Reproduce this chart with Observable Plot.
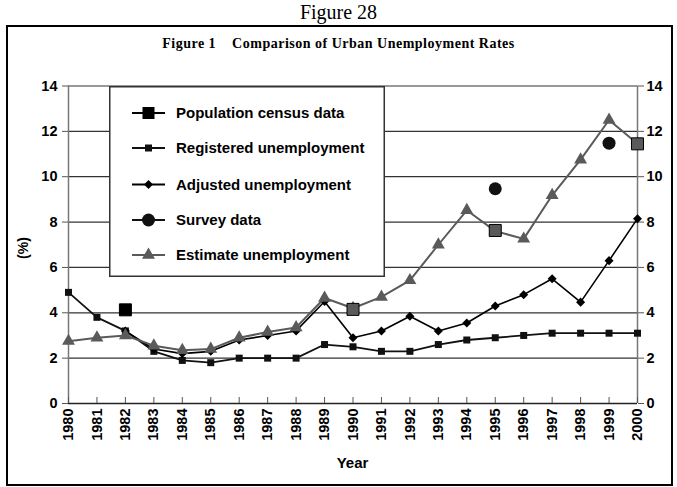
<!DOCTYPE html>
<html><head><meta charset="utf-8">
<script src="https://cdn.jsdelivr.net/npm/d3@7"></script>
<script src="https://cdn.jsdelivr.net/npm/@observablehq/plot@0.6"></script>
<style>
body{margin:0;background:#fff;}
#wrap{position:relative;width:677px;height:487px;overflow:hidden;font-family:"Liberation Sans",Arial,sans-serif;}
#fig{position:absolute;top:0;left:0;width:677px;text-align:center;font-family:"Liberation Serif","Times New Roman",serif;font-size:20px;line-height:24px;}
#frame{position:absolute;left:6px;top:25px;width:663px;height:457px;border:2px solid #000;pointer-events:none;}
#title{position:absolute;top:36px;left:0;width:677px;text-align:center;font-family:"Liberation Serif","Times New Roman",serif;font-weight:bold;font-size:14px;letter-spacing:0.5px;white-space:pre;}
#chart{position:absolute;left:0;top:60px;}
#ylab{position:absolute;left:12px;top:240px;font-weight:bold;font-size:14px;transform:rotate(-90deg);transform-origin:center;}
#xlab{position:absolute;top:454px;left:0;width:705px;text-align:center;font-weight:bold;font-size:15px;}
#legend{position:absolute;left:109px;top:86px;}
</style></head>
<body>
<div id="wrap">
  <div id="fig">Figure 28</div>
  <div id="title">Figure 1    Comparison of Urban Unemployment Rates</div>
  <div id="chart"></div>
  <div id="ylab">(%)</div>
  <div id="xlab">Year</div>
  <div id="legend"></div>
  <div id="frame"></div>
</div>
<script>
// ---- data ----
const years = [1980,1981,1982,1983,1984,1985,1986,1987,1988,1989,1990,1991,1992,1993,1994,1995,1996,1997,1998,1999,2000];
const registered = [4.9,3.8,3.2,2.3,1.9,1.8,2.0,2.0,2.0,2.6,2.5,2.3,2.3,2.6,2.8,2.9,3.0,3.1,3.1,3.1,3.1];
const adjustedYears = [1982,1983,1984,1985,1986,1987,1988,1989,1990,1991,1992,1993,1994,1995,1996,1997,1998,1999,2000];
const adjusted = [3.2,2.4,2.2,2.3,2.8,3.0,3.2,4.5,2.9,3.2,3.85,3.2,3.55,4.3,4.8,5.5,4.47,6.3,8.15];
const estimate = [2.75,2.9,3.0,2.55,2.35,2.4,2.9,3.15,3.35,4.65,4.2,4.7,5.43,7.0,8.52,7.6,7.26,9.18,10.75,12.5,11.45];
const censusYears = [1982,1990,1995,2000];
const census = [4.13,4.15,7.63,11.45];
const surveyYears = [1995,1999];
const survey = [9.47,11.48];
const yTicks = [0,2,4,6,8,10,12,14];
const seriesNames = ["Population census data","Registered unemployment","Adjusted unemployment","Survey data","Estimate unemployment"];

// ---- tables ----
const regData = years.map((y,i)=>({year:y, value:registered[i]}));
const adjData = adjustedYears.map((y,i)=>({year:y, value:adjusted[i]}));
const estData = years.map((y,i)=>({year:y, value:estimate[i]}));
const cenData = censusYears.map((y,i)=>({year:y, value:census[i], overlap: Math.abs(estimate[years.indexOf(y)]-census[i]) < 0.5}));
const surData = surveyYears.map((y,i)=>({year:y, value:survey[i]}));

const diamond = {draw(ctx, size){const r=Math.sqrt(size/2);ctx.moveTo(0,-r);ctx.lineTo(r,0);ctx.lineTo(0,r);ctx.lineTo(-r,0);ctx.closePath();}};
const GRAY = "#5a5a5a";

const chart = Plot.plot({
  width: 677, height: 427,
  marginLeft: 68, marginRight: 40, marginTop: 25.5, marginBottom: 84,
  x: {domain: [1980, 2000], type: "linear"},
  y: {domain: [0, 14]},
  style: {fontFamily: "'Liberation Sans', Arial, sans-serif", fontWeight: "bold", fontSize: "14.5px", background: "transparent", color: "#000"},
  marks: [
    Plot.gridY(yTicks.filter(v=>v>0), {stroke: "#333", strokeOpacity: 1, strokeWidth: 1.2}),
    Plot.ruleX([1980, 2000], {stroke: "#777", strokeWidth: 1.5}),
    Plot.ruleY([0], {stroke: "#222", strokeWidth: 1.5}),
    Plot.axisY({anchor: "left", ticks: yTicks, tickSize: 6, tickPadding: 5, label: null, stroke: "#555"}),
    Plot.axisY({anchor: "right", ticks: yTicks, tickSize: 6, tickPadding: 3, label: null, stroke: "#555"}),
    Plot.axisX({ticks: years, tickSize: -6, tickFormat: () => "", label: null, stroke: "#555"}),
    Plot.axisX({ticks: years, tickSize: 0, tickPadding: 5, tickRotate: -90, tickFormat: d => String(d), label: null}),
    // registered
    Plot.line(regData, {x: "year", y: "value", stroke: "#111", strokeWidth: 1.8}),
    Plot.dot(regData, {x: "year", y: "value", symbol: "square", r: 3.95, fill: "#111", stroke: "none"}),
    // adjusted
    Plot.line(adjData, {x: "year", y: "value", stroke: "#000", strokeWidth: 1.6}),
    Plot.dot(adjData, {x: "year", y: "value", symbol: diamond, r: 3.6, fill: "#000", stroke: "none"}),
    // estimate
    Plot.line(estData, {x: "year", y: "value", stroke: GRAY, strokeWidth: 2}),
    Plot.dot(estData, {x: "year", y: "value", symbol: "triangle", r: 4.8, fill: GRAY, stroke: "none"}),
    // census
    Plot.dot(cenData, {x: "year", y: "value", symbol: "square", r: 6.77, fill: d => d.overlap ? GRAY : "#000", stroke: "#000", strokeWidth: 1}),
    // survey
    Plot.dot(surData, {x: "year", y: "value", symbol: "circle", r: 6.5, fill: "#111", stroke: "none"})
  ]
});
document.getElementById("chart").appendChild(chart);

// ---- legend ----
const legSymbols = [
  {sym: d3.symbolSquare, size: 144, color: "#000"},
  {sym: d3.symbolSquare, size: 49, color: "#111"},
  {sym: diamond, size: 40.5, color: "#000"},
  {sym: d3.symbolCircle, size: Math.PI*6.5*6.5, color: "#111"},
  {sym: d3.symbolTriangle, size: Math.PI*4.8*4.8, color: GRAY}
];
const lw = 276, lh = 191;
const svg = d3.select("#legend").append("svg").attr("width", lw).attr("height", lh)
  .style("font-family", "'Liberation Sans', Arial, sans-serif");
svg.append("rect").attr("x",0.75).attr("y",0.75).attr("width",lw-1.5).attr("height",lh-1.5).attr("fill","#fff").attr("stroke","#333").attr("stroke-width",1.5);
const rowY = [27, 62, 98.5, 134, 169];
seriesNames.forEach((name, i) => {
  const g = svg.append("g").attr("transform", `translate(0,${rowY[i]})`);
  g.append("line").attr("x1",23).attr("x2",56).attr("y1",0).attr("y2",0).attr("stroke",legSymbols[i].color).attr("stroke-width",1.8);
  g.append("path").attr("d", d3.symbol(legSymbols[i].sym, legSymbols[i].size)()).attr("transform","translate(39.5,0)").attr("fill",legSymbols[i].color);
  g.append("text").attr("x",67).attr("y",0).attr("dy","0.36em").attr("font-size","15px").attr("font-weight","bold").text(name);
});
</script>
</body></html>
